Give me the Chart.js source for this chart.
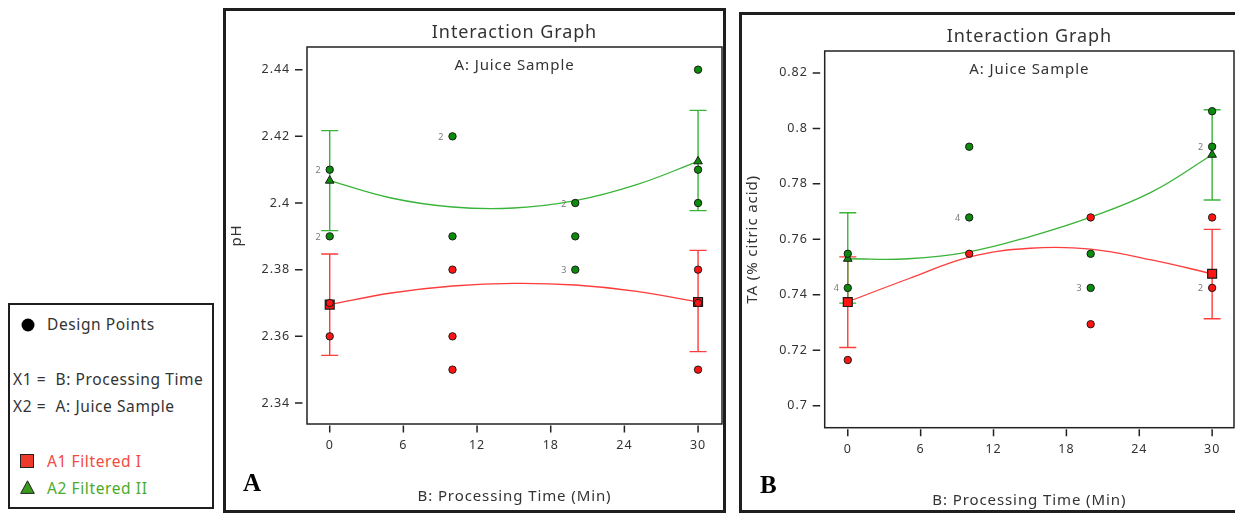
<!DOCTYPE html>
<html>
<head>
<meta charset="utf-8">
<title>Interaction Graph</title>
<script src="https://cdn.jsdelivr.net/npm/chart.js"></script>
<style>
  body { margin: 0; background: #fff; font-family: "Noto Sans", sans-serif; }
  .frame { position: absolute; box-sizing: border-box; border: 3px solid #1e1e1e; background: #fff; }
  #frameA { left: 223px; top: 8px; width: 503px; height: 505px; }
  #frameB { left: 739px; top: 12px; width: 496px; height: 501px; border-right: none; }
  .frame canvas { position: absolute; left: 0; top: 0; }
  #legend { left: 8px; top: 303px; width: 206px; height: 206px; border-width: 2px; color: #333; font-size: 15.5px; letter-spacing: 0.6px; }
  #legend .row { position: absolute; line-height: 20px; white-space: nowrap; }
  #legend svg { position: absolute; }
</style>
</head>
<body>

<div class="frame" id="legend">
  <svg style="left:11px;top:13px" width="14" height="14"><circle cx="7" cy="7" r="6.5" fill="#000"/></svg>
  <div class="row" style="left:37px;top:9px">Design Points</div>
  <div class="row" style="left:3px;top:64px">X1 = &nbsp;B: Processing Time</div>
  <div class="row" style="left:3px;top:91px">X2 = &nbsp;A: Juice Sample</div>
  <svg style="left:10px;top:149px" width="14" height="14"><rect x="0.5" y="0.5" width="13" height="13" fill="#ee3a2a" stroke="#222"/></svg>
  <div class="row" style="left:37px;top:146px;color:#f24a3e">A1 Filtered I</div>
  <svg style="left:10px;top:175px" width="15" height="14"><polygon points="7.5,0.8 14.3,13.4 0.7,13.4" fill="#3a9a1c" stroke="#222"/></svg>
  <div class="row" style="left:37px;top:173px;color:#4aab2c">A2 Filtered II</div>
</div>

<div class="frame" id="frameA"><canvas id="chartA" width="497" height="499"></canvas></div>
<div class="frame" id="frameB"><canvas id="chartB" width="493" height="495"></canvas></div>

<script>
// ---- shared ticks
const xTicks = [0, 6, 12, 18, 24, 30];
const meanX = [0, 30];
const curveX = [0, 5, 10, 15, 20, 25, 30];

// ---- panel A (pH)
const aTicksY = [2.34, 2.36, 2.38, 2.40, 2.42, 2.44];
const aRedPtX = [0, 0, 10, 10, 10, 30, 30, 30];
const aRedPtY = [2.37, 2.36, 2.38, 2.36, 2.35, 2.38, 2.37, 2.35];
const aGreenPtX = [0, 0, 10, 10, 20, 20, 20, 30, 30, 30];
const aGreenPtY = [2.41, 2.39, 2.42, 2.39, 2.40, 2.39, 2.38, 2.44, 2.41, 2.40];
const aRedFit = [2.3695, 2.3730, 2.3751, 2.3759, 2.3754, 2.3735, 2.3703];
const aGreenFit = [2.4067, 2.4015, 2.3988, 2.3985, 2.4007, 2.4055, 2.4125];
const aRedMean = [2.3695, 2.3703];
const aGreenMean = [2.4067, 2.4125];
const aRedLo = [2.3543, 2.3554];
const aRedHi = [2.3847, 2.3858];
const aGreenLo = [2.3917, 2.3977];
const aGreenHi = [2.4217, 2.4278];
const aCountX = [0, 0, 10, 20, 20];
const aCountY = [2.41, 2.39, 2.42, 2.40, 2.38];
const aCountText = ['2', '2', '2', '2', '3'];

// ---- panel B (TA)
const bTicksY = [0.70, 0.72, 0.74, 0.76, 0.78, 0.80, 0.82];
const bRedPtX = [0, 10, 20, 20, 30, 30];
const bRedPtY = [0.7165, 0.7548, 0.7679, 0.7294, 0.7679, 0.7425];
const bGreenPtX = [0, 0, 10, 10, 20, 20, 30, 30];
const bGreenPtY = [0.7548, 0.7425, 0.7934, 0.7679, 0.7548, 0.7425, 0.8062, 0.7934];
const bRedFit = [0.7375, 0.7458, 0.7536, 0.7568, 0.7565, 0.7526, 0.7476];
const bGreenFit = [0.7530, 0.7530, 0.7555, 0.7610, 0.7680, 0.7770, 0.7905];
const bRedMean = [0.7374, 0.7476];
const bGreenMean = [0.7530, 0.7905];
const bRedLo = [0.7210, 0.7314];
const bRedHi = [0.7537, 0.7636];
const bGreenLo = [0.7370, 0.7742];
const bGreenHi = [0.7696, 0.8067];
const bCountX = [0, 10, 20, 30, 30];
const bCountY = [0.7425, 0.7679, 0.7425, 0.7934, 0.7425];
const bCountText = ['4', '4', '3', '2', '2'];

const RED = '#ff1414', GREEN = '#0a8c0a';
const RED_LINE = '#ff3c3c', GREEN_LINE = '#38b438';
const TXT = '#333';
Chart.defaults.font.family = '"Noto Sans", sans-serif';

const pts = (xs, ys) => xs.map((x, i) => ({x: x, y: ys[i]}));

// plot frame, detached tick marks, subtitle, error bars, replicate counts, panel letter
const panelDeco = {
  id: 'panelDeco',
  beforeInit(chart) { chart.ctx.letterSpacing = '0.9px'; },
  beforeDraw(chart) { chart.ctx.letterSpacing = '0.9px'; },
  beforeDatasetsDraw(chart, args, o) {
    const {ctx, scales: {x, y}} = chart;
    ctx.save();
    ctx.lineWidth = 1.4;
    o.bars.forEach(b => {
      b.lo.forEach((lo, i) => {
        const px = x.getPixelForValue(meanX[i]);
        const p1 = y.getPixelForValue(lo), p2 = y.getPixelForValue(b.hi[i]);
        ctx.strokeStyle = b.color;
        ctx.beginPath();
        ctx.moveTo(px, p1); ctx.lineTo(px, p2);
        ctx.moveTo(px - 8.5, p1); ctx.lineTo(px + 8.5, p1);
        ctx.moveTo(px - 8.5, p2); ctx.lineTo(px + 8.5, p2);
        ctx.stroke();
      });
    });
    ctx.restore();
  },
  afterDraw(chart, args, o) {
    const {ctx, chartArea: a, scales: {x, y}} = chart;
    ctx.save();
    ctx.strokeStyle = '#222';
    ctx.lineWidth = 1.5;
    ctx.strokeRect(a.left, a.top, a.right - a.left, a.bottom - a.top);
    ctx.beginPath();
    y.ticks.forEach(t => {
      const py = y.getPixelForValue(t.value);
      ctx.moveTo(a.left - 12, py); ctx.lineTo(a.left - 4.5, py);
    });
    x.ticks.forEach(t => {
      const px = x.getPixelForValue(t.value);
      ctx.moveTo(px, a.bottom + 1.5); ctx.lineTo(px, a.bottom + 8.5);
    });
    ctx.stroke();

    ctx.fillStyle = TXT;
    ctx.font = '15px "Noto Sans"';
    ctx.textAlign = 'center';
    ctx.textBaseline = 'middle';
    ctx.fillText('A: Juice Sample', (a.left + a.right) / 2, a.top + 19);

    ctx.letterSpacing = '0px';
    ctx.fillStyle = '#7a7a7a';
    ctx.font = '9px "Noto Sans"';
    ctx.textAlign = 'right';
    o.counts.x.forEach((cx, i) => {
      ctx.fillText(o.counts.t[i], x.getPixelForValue(cx) - 9, y.getPixelForValue(o.counts.y[i]) + 1);
    });

    ctx.fillStyle = '#000';
    ctx.font = 'bold 25px "Liberation Serif"';
    ctx.textAlign = 'left';
    ctx.textBaseline = 'alphabetic';
    ctx.fillText(o.letter, o.letterAt[0], o.letterAt[1]);
    ctx.restore();
  }
};

function buildChart(id, d) {
  return new Chart(document.getElementById(id), {
    type: 'scatter',
    plugins: [panelDeco],
    data: {
      datasets: [
        {label: 'A1 design points', data: pts(d.redPtX, d.redPtY), order: 1,
         pointStyle: 'circle', pointRadius: 3.7, backgroundColor: RED, borderColor: '#1a1a1a', borderWidth: 1},
        {label: 'A2 design points', data: pts(d.greenPtX, d.greenPtY), order: 1,
         pointStyle: 'circle', pointRadius: 3.7, backgroundColor: GREEN, borderColor: '#1a1a1a', borderWidth: 1},
        {label: 'A1 Filtered I', data: pts(meanX, d.redMean), order: 2,
         pointStyle: 'rect', pointRadius: 6.3, backgroundColor: RED, borderColor: '#1a1a1a', borderWidth: 1.2},
        {label: 'A2 Filtered II', data: pts(meanX, d.greenMean), order: 2,
         pointStyle: 'triangle', pointRadius: 5, backgroundColor: GREEN, borderColor: '#1a1a1a', borderWidth: 1},
        {label: 'A1 fit', data: pts(curveX, d.redFit), order: 3, showLine: true, tension: 0.4,
         pointRadius: 0, borderColor: RED_LINE, borderWidth: 1.3},
        {label: 'A2 fit', data: pts(curveX, d.greenFit), order: 3, showLine: true, tension: 0.4,
         pointRadius: 0, borderColor: GREEN_LINE, borderWidth: 1.3}
      ]
    },
    options: {
      responsive: false,
      animation: false,
      events: [],
      layout: {autoPadding: false, padding: {left: 0, top: 0, bottom: 0, right: d.padRight}},
      plugins: {
        legend: {display: false},
        tooltip: {enabled: false},
        title: {display: true, text: 'Interaction Graph', fullSize: false, color: TXT,
                font: {size: 18, weight: 'normal'}, padding: {top: 11, bottom: 3.4}},
        panelDeco: {
          bars: [{color: RED_LINE, lo: d.redLo, hi: d.redHi}, {color: GREEN_LINE, lo: d.greenLo, hi: d.greenHi}],
          counts: {x: d.countX, y: d.countY, t: d.countText},
          letter: d.letter, letterAt: d.letterAt
        }
      },
      scales: {
        x: {
          type: 'linear', min: d.xMin, max: d.xMax,
          afterBuildTicks: s => { s.ticks = xTicks.map(v => ({value: v})); },
          afterFit: s => { s.height = d.xHeight; s.paddingLeft = 0; s.paddingRight = 0; },
          grid: {display: false, drawTicks: false},
          border: {display: false},
          ticks: {padding: d.xPad, color: TXT, font: {size: 12.5}},
          title: {display: true, text: 'B: Processing Time (Min)', color: TXT, font: {size: 15},
                  padding: {top: 0, bottom: d.xTitlePad}}
        },
        y: {
          type: 'linear', min: d.yMin, max: d.yMax,
          afterBuildTicks: s => { s.ticks = d.yTicks.map(v => ({value: v})); },
          afterFit: s => { s.width = d.yWidth; s.paddingTop = 0; s.paddingBottom = 0; },
          grid: {display: false, drawTicks: false},
          border: {display: false},
          ticks: {padding: 17, color: TXT, font: {size: 12.5},
                  callback: v => String(Math.round(v * 100) / 100)},
          title: {display: true, text: d.yTitle, color: TXT, font: {size: 15}, padding: {top: 1.5, bottom: 0}}
        }
      }
    }
  });
}

buildChart('chartA', {
  redPtX: aRedPtX, redPtY: aRedPtY, greenPtX: aGreenPtX, greenPtY: aGreenPtY,
  redFit: aRedFit, greenFit: aGreenFit, redMean: aRedMean, greenMean: aGreenMean,
  redLo: aRedLo, redHi: aRedHi, greenLo: aGreenLo, greenHi: aGreenHi,
  countX: aCountX, countY: aCountY, countText: aCountText,
  yTicks: aTicksY, yMin: 2.3337, yMax: 2.4468, xMin: -1.85, xMax: 31.95,
  yTitle: 'pH', yWidth: 81, xHeight: 86, xPad: 14, xTitlePad: 4, padRight: 1,
  letter: 'A', letterAt: [17, 480]
});

buildChart('chartB', {
  redPtX: bRedPtX, redPtY: bRedPtY, greenPtX: bGreenPtX, greenPtY: bGreenPtY,
  redFit: bRedFit, greenFit: bGreenFit, redMean: bRedMean, greenMean: bGreenMean,
  redLo: bRedLo, redHi: bRedHi, greenLo: bGreenLo, greenHi: bGreenHi,
  countX: bCountX, countY: bCountY, countText: bCountText,
  yTicks: bTicksY, yMin: 0.6921, yMax: 0.8279, xMin: -1.9, xMax: 31.8,
  yTitle: 'TA (% citric acid)', yWidth: 82.7, xHeight: 82.3, xPad: 14, xTitlePad: 0, padRight: 1,
  letter: 'B', letterAt: [18, 478]
});
</script>
</body>
</html>
